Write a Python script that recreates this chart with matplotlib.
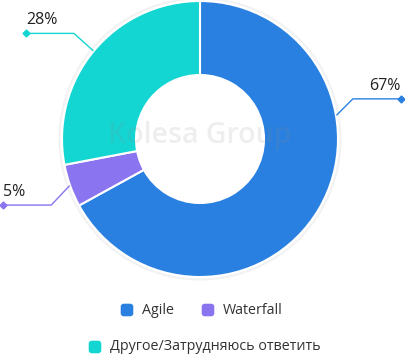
import numpy as np
import matplotlib.pyplot as plt
from matplotlib.patches import FancyBboxPatch

labels = ['Agile', 'Waterfall', 'Другое/Затрудняюсь ответить']
values = [67, 5, 28]
pct_text = ['67%', '5%', '28%']
colors = ['#2a80e0', '#8b74ef', '#13d6d2']

plt.rcParams['font.family'] = ['Open Sans', 'DejaVu Sans']

W, H = 405, 356
fig = plt.figure(figsize=(W / 100, H / 100), dpi=100)
ax = fig.add_axes([0, 0, 1, 1])
ax.set_xlim(0, W)
ax.set_ylim(0, H)
ax.set_aspect('equal')
ax.axis('off')

cx, cy, R = 200, 217, 138
ax.add_patch(plt.Circle((cx, cy), R + 2.5, fc='none', ec='#f2f2f2', lw=1.5))
wedges, _ = ax.pie(values, colors=colors, startangle=90, counterclock=False,
                   center=(cx, cy), radius=R, frame=True,
                   wedgeprops=dict(width=R - 64, edgecolor='white', linewidth=1.5))
ax.set_xlim(0, W)
ax.set_ylim(0, H)
ax.axis('off')

ax.text(cx, cy + 4, 'Kolesa Group', ha='center', va='center', fontsize=20.5,
        color='#888888', alpha=0.14, fontweight='semibold', zorder=5)

# leader lines: anchor angle, elbow offset, end x
anchor_override = {0: 10}
elbow = [(16, 16), (-18, -19), (-19, 17)]
end_x = [401, 3, 26]
align = ['right', 'left', 'left']
for i, w in enumerate(wedges):
    ang = anchor_override.get(i, (w.theta1 + w.theta2) / 2)
    a = np.deg2rad(ang)
    x0, y0 = cx + (R + 1) * np.cos(a), cy + (R + 1) * np.sin(a)
    x1, y1 = x0 + elbow[i][0], y0 + elbow[i][1]
    ax.plot([x0, x1, end_x[i]], [y0, y1, y1], color=colors[i], lw=1, zorder=6)
    ax.plot(end_x[i], y1, marker='D', ms=3.5, color=colors[i], zorder=6)
    ax.text(end_x[i], y1 + 5, pct_text[i], ha=align[i], va='bottom',
            fontsize=11.5, color='#222222')

# legend
def legend_item(x, y, color, text):
    ax.add_patch(FancyBboxPatch((x - 5, y - 5), 10, 10, boxstyle='round,pad=1.3,rounding_size=3',
                                fc=color, ec='none'))
    ax.text(x + 15, y, text, ha='left', va='center', fontsize=10.3, color='#333333')

legend_item(127, H - 310, colors[0], labels[0])
legend_item(208, H - 310, colors[1], labels[1])
legend_item(95, H - 347, colors[2], labels[2])

fig.savefig('out.png', dpi=100)
